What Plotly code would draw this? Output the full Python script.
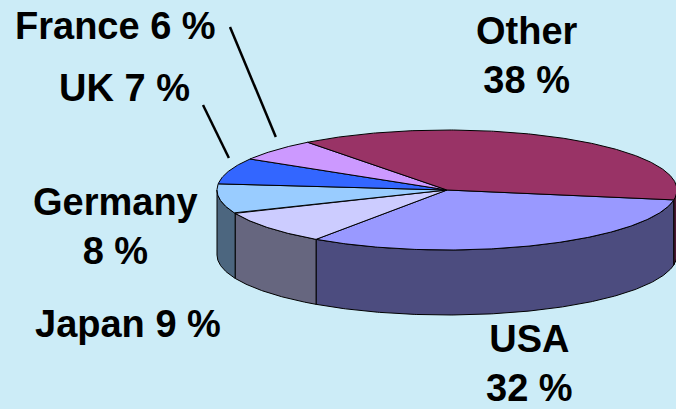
import numpy as np
import plotly.graph_objects as go

# Market share by country (percent), in drawing order clockwise from the start angle
countries = ["USA", "Japan", "Germany", "UK", "France", "Other"]
shares = [32, 9, 8, 7, 6, 38]
top_colors = ["#9999FF", "#CCCCFF", "#99CCFF", "#3366FF", "#CC99FF", "#993366"]

# Label text layout: (x, y, put value on a second line)
label_layout = {
    "USA": (529, 363, True),
    "Japan": (128, 324, False),
    "Germany": (115, 226, True),
    "UK": (124, 88, False),
    "France": (115, 26, False),
    "Other": (527, 55, True),
}
# Leader lines run from these label-side points to the slice
leader_from = {"UK": (203, 105), "France": (230, 27)}

BG = "#CCECF7"
W, H = 676, 409
CX, CY = 447, 190        # centre of the top ellipse (px)
RX, RY = 230, 60         # ellipse radii (px)
DEPTH = 65               # pie thickness (px)
START = 9.5              # start angle, degrees clockwise from 3 o'clock


def darken(hex_color, f=0.5):
    h = hex_color.lstrip("#")
    r, g, b = (int(h[i:i + 2], 16) for i in (0, 2, 4))
    return "rgb({},{},{})".format(int(r * f), int(g * f), int(b * f))


def arc(a0, a1, dy=0.0, n=None):
    n = n or max(int(abs(a1 - a0)) * 2, 4)
    t = np.radians(np.linspace(a0, a1, n))
    return CX + RX * np.cos(t), CY + RY * np.sin(t) + dy


total = float(sum(shares))
bounds = [START]
for s in shares:
    bounds.append(bounds[-1] + s / total * 360.0)

fig = go.Figure()

# Side walls: only the front half (0..180 deg, and its 360..540 twin) is visible
for i, name in enumerate(countries):
    a, b = bounds[i], bounds[i + 1]
    for lo, hi in ((0, 180), (360, 540)):
        s0, s1 = max(a, lo), min(b, hi)
        if s1 <= s0:
            continue
        xt, yt = arc(s0, s1)
        xb, yb = arc(s1, s0, dy=DEPTH)
        fig.add_trace(go.Scatter(
            x=np.concatenate([xt, xb, xt[:1]]),
            y=np.concatenate([yt, yb, yt[:1]]),
            mode="lines", fill="toself", fillcolor=darken(top_colors[i]),
            line=dict(color="black", width=1), hoverinfo="skip",
        ))

# Top faces of the slices
for i, name in enumerate(countries):
    a, b = bounds[i], bounds[i + 1]
    xt, yt = arc(a, b)
    fig.add_trace(go.Scatter(
        x=np.concatenate([[CX], xt, [CX]]),
        y=np.concatenate([[CY], yt, [CY]]),
        mode="lines", fill="toself", fillcolor=top_colors[i],
        line=dict(color="black", width=1), hoverinfo="skip",
    ))

# Leader lines to the small slices
for i, name in enumerate(countries):
    if name not in leader_from:
        continue
    mid = np.radians((bounds[i] + bounds[i + 1]) / 2.0)
    ex, ey = CX + RX * np.cos(mid), CY + RY * np.sin(mid) - 13
    sx, sy = leader_from[name]
    fig.add_trace(go.Scatter(
        x=[sx, ex], y=[sy, ey], mode="lines",
        line=dict(color="black", width=2.5), hoverinfo="skip",
    ))

# Slice labels
for name, share in zip(countries, shares):
    x, y, two = label_layout[name]
    text = f"{name}<br>{share} %" if two else f"{name} {share} %"
    fig.add_annotation(
        x=x, y=y, xref="x", yref="y", text=text, showarrow=False,
        xanchor="center", yanchor="middle", align="center",
        font=dict(family="Liberation Sans, Arial, sans-serif", size=38,
                  color="black", weight="bold"),
    )

fig.update_layout(
    width=W, height=H, margin=dict(l=0, r=0, t=0, b=0),
    paper_bgcolor=BG, plot_bgcolor=BG, showlegend=False, hovermode=False,
    xaxis=dict(range=[0, W], visible=False, fixedrange=True),
    yaxis=dict(range=[H, 0], visible=False, fixedrange=True),
)

fig.write_html("out.html")
